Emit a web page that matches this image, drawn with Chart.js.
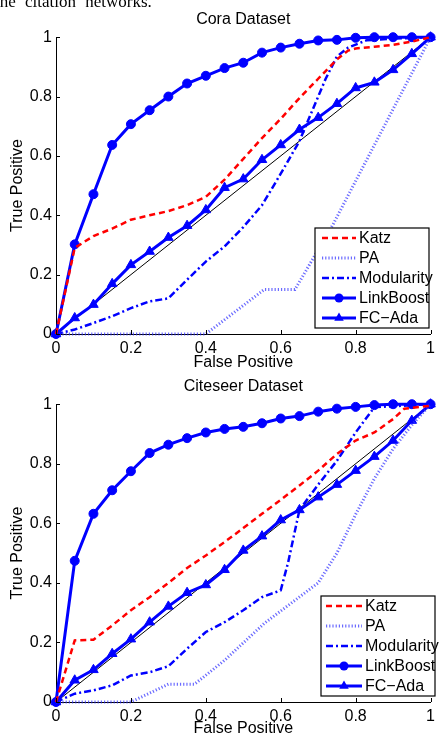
<!DOCTYPE html>
<html>
<head>
<meta charset="utf-8">
<script src="https://cdn.jsdelivr.net/npm/chart.js@4.4.1/dist/chart.umd.min.js"></script>
<style>
  body { margin: 0; background: #fff; width: 440px; height: 738px; overflow: hidden; position: relative; }
  canvas { position: absolute; left: 0; }
  #caption {
    position: absolute; top: -7px; left: -5px; z-index: 2;
    font: 17px "Liberation Serif", serif; line-height: 17px;
    word-spacing: 5px; white-space: nowrap; color: #000;
  }
</style>
</head>
<body>
<div id="caption">the citation networks.</div>
<canvas id="coraChart" width="440" height="372" style="top:0"></canvas>
<canvas id="citeseerChart" width="440" height="366" style="top:372px"></canvas>
<script>
// false positive rate grid used by the marker curves
const fpr = [0, 0.05, 0.1, 0.15, 0.2, 0.25, 0.3, 0.35, 0.4, 0.45, 0.5, 0.55, 0.6, 0.65, 0.7, 0.75, 0.8, 0.85, 0.9, 0.95, 1];
const diagX = [0, 1];
const diagY = [0, 1];
const tickLabels = ['0', '0.2', '0.4', '0.6', '0.8', '1'];

// Cora
const coraLinkBoost = [0, 0.302, 0.471, 0.637, 0.707, 0.754, 0.800, 0.844, 0.870, 0.896, 0.914, 0.948, 0.965, 0.978, 0.989, 0.991, 0.998, 1, 1, 1, 1];
const coraFcAda = [0, 0.054, 0.099, 0.169, 0.233, 0.278, 0.325, 0.365, 0.418, 0.493, 0.522, 0.587, 0.637, 0.689, 0.729, 0.776, 0.829, 0.848, 0.890, 0.944, 1];
const coraKatzX = [0, 0.05, 0.1, 0.15, 0.2, 0.25, 0.3, 0.35, 0.4, 0.45, 0.5, 0.55, 0.6, 0.65, 0.7, 0.75, 0.78, 0.8, 0.85, 0.9, 0.95, 1];
const coraKatz = [0, 0.29, 0.33, 0.355, 0.385, 0.40, 0.414, 0.434, 0.462, 0.52, 0.59, 0.66, 0.725, 0.795, 0.86, 0.925, 0.955, 0.962, 0.968, 0.974, 0.985, 1];
const coraPAX = [0, 0.4, 0.556, 0.638, 0.74, 1];
const coraPA = [0, 0, 0.15, 0.15, 0.37, 1];
const coraModX = [0, 0.05, 0.1, 0.15, 0.2, 0.25, 0.3, 0.35, 0.4, 0.45, 0.5, 0.55, 0.6, 0.65, 0.68, 0.72, 0.75, 0.78, 0.83, 0.9, 1];
const coraMod = [0, 0.015, 0.037, 0.06, 0.087, 0.11, 0.12, 0.183, 0.244, 0.295, 0.36, 0.434, 0.54, 0.65, 0.74, 0.86, 0.935, 0.965, 0.99, 0.995, 1];

// Citeseer
const citeLinkBoost = [0, 0.474, 0.632, 0.711, 0.775, 0.836, 0.864, 0.886, 0.905, 0.917, 0.924, 0.936, 0.952, 0.960, 0.975, 0.985, 0.991, 0.997, 1, 1, 1];
const citeFcAda = [0, 0.073, 0.108, 0.162, 0.211, 0.268, 0.321, 0.367, 0.393, 0.444, 0.509, 0.557, 0.611, 0.645, 0.688, 0.730, 0.777, 0.824, 0.878, 0.945, 1];
const citeKatzX = [0, 0.05, 0.1, 0.15, 0.2, 0.25, 0.3, 0.35, 0.4, 0.45, 0.5, 0.55, 0.6, 0.65, 0.7, 0.75, 0.8, 0.85, 0.9, 0.93, 1];
const citeKatz = [0, 0.207, 0.209, 0.257, 0.308, 0.352, 0.40, 0.45, 0.492, 0.537, 0.584, 0.632, 0.679, 0.727, 0.777, 0.833, 0.878, 0.905, 0.95, 0.985, 0.995];
const citePAX = [0, 0.2, 0.3, 0.37, 0.45, 0.556, 0.7, 0.75, 0.8, 0.85, 0.9, 0.95, 1];
const citePA = [0, 0, 0.06, 0.06, 0.14, 0.264, 0.4, 0.5, 0.63, 0.75, 0.85, 0.93, 1];
const citeModX = [0, 0.05, 0.1, 0.15, 0.2, 0.25, 0.3, 0.35, 0.4, 0.45, 0.5, 0.55, 0.6, 0.62, 0.65, 0.7, 0.75, 0.8, 0.85, 0.9, 1];
const citeMod = [0, 0.028, 0.039, 0.056, 0.089, 0.10, 0.12, 0.179, 0.235, 0.268, 0.308, 0.352, 0.375, 0.47, 0.645, 0.73, 0.81, 0.905, 0.99, 0.993, 1];

Chart.defaults.font.family = '"Liberation Sans", Arial, sans-serif';
Chart.defaults.font.size = 16;
Chart.defaults.color = '#000';

const BLUE = '#0000ff';
const pts = (xs, ys) => xs.map((x, i) => ({ x: x, y: ys[i] }));

// MATLAB style tick marks pointing into the axes
const inwardTicks = {
  id: 'inwardTicks',
  afterDraw(chart) {
    const { ctx, chartArea, scales } = chart;
    ctx.save();
    ctx.strokeStyle = '#000';
    ctx.lineWidth = 1;
    ctx.beginPath();
    scales.x.ticks.forEach(t => {
      const px = Math.round(scales.x.getPixelForValue(t.value)) + 0.5;
      ctx.moveTo(px, chartArea.bottom);
      ctx.lineTo(px, chartArea.bottom - 4);
    });
    scales.y.ticks.forEach(t => {
      const py = Math.round(scales.y.getPixelForValue(t.value)) + 0.5;
      ctx.moveTo(chartArea.left, py);
      ctx.lineTo(chartArea.left + 4, py);
    });
    ctx.stroke();
    ctx.restore();
  }
};

function drawMarker(ctx, style, r, x, y) {
  ctx.beginPath();
  if (style === 'triangle') {
    let rad = 0;
    ctx.moveTo(x + Math.sin(rad) * r, y - Math.cos(rad) * r);
    rad += Math.PI * 2 / 3;
    ctx.lineTo(x + Math.sin(rad) * r, y - Math.cos(rad) * r);
    rad += Math.PI * 2 / 3;
    ctx.lineTo(x + Math.sin(rad) * r, y - Math.cos(rad) * r);
    ctx.closePath();
  } else {
    ctx.arc(x, y, r, 0, Math.PI * 2);
  }
  ctx.fill();
}

// boxed legend inside the plot, like the matlab one
const boxLegend = {
  id: 'boxLegend',
  afterDraw(chart, args, opts) {
    const ctx = chart.ctx;
    const items = chart.data.datasets.filter(d => d.label);
    const rowH = opts.height / items.length;
    ctx.save();
    ctx.fillStyle = '#fff';
    ctx.fillRect(opts.left, opts.top, opts.width, opts.height);
    ctx.strokeStyle = '#000';
    ctx.lineWidth = 1.2;
    ctx.strokeRect(opts.left, opts.top, opts.width, opts.height);
    items.forEach((d, i) => {
      const yy = opts.top + rowH * (i + 0.5);
      ctx.setLineDash(d.borderDash || []);
      ctx.strokeStyle = d.borderColor;
      ctx.lineWidth = d.borderWidth;
      ctx.beginPath();
      ctx.moveTo(opts.x0, yy);
      ctx.lineTo(opts.x1, yy);
      ctx.stroke();
      ctx.setLineDash([]);
      if (d.pointRadius > 0) {
        ctx.fillStyle = d.pointBackgroundColor;
        drawMarker(ctx, d.pointStyle, d.pointRadius, (opts.x0 + opts.x1) / 2, yy);
      }
      ctx.fillStyle = '#000';
      ctx.font = '16px "Liberation Sans", Arial, sans-serif';
      ctx.textBaseline = 'middle';
      ctx.textAlign = 'left';
      ctx.fillText(d.label, opts.textX, yy + 1);
    });
    ctx.restore();
  }
};

function makeDatasets(katzX, katz, paX, pa, modX, mod, linkBoost, fcAda) {
  return [
    { label: 'Katz', data: pts(katzX, katz), borderColor: '#ff0000', borderWidth: 2.5, borderDash: [6, 4], pointRadius: 0 },
    { label: 'PA', data: pts(paX, pa), borderColor: 'rgba(50, 50, 255, 0.72)', borderWidth: 3, borderDash: [1.2, 2], pointRadius: 0 },
    { label: 'Modularity', data: pts(modX, mod), borderColor: BLUE, borderWidth: 2.5, borderDash: [7, 3, 2, 3], pointRadius: 0 },
    { label: 'LinkBoost', data: pts(fpr, linkBoost), borderColor: BLUE, borderWidth: 3, pointStyle: 'circle', pointRadius: 4.5,
      pointBackgroundColor: BLUE, pointBorderColor: BLUE, pointBorderWidth: 1 },
    { label: 'FC\u2212Ada', data: pts(fpr, fcAda), borderColor: BLUE, borderWidth: 3, pointStyle: 'triangle', pointRadius: 5.5,
      pointBackgroundColor: BLUE, pointBorderColor: BLUE, pointBorderWidth: 1 },
    { data: pts(diagX, diagY), borderColor: '#000', borderWidth: 1, pointRadius: 0 }
  ].map(d => Object.assign({ showLine: true, clip: false, tension: 0, pointHoverRadius: 0 }, d));
}

function makeChart(id, title, datasets, titlePad, xHeight, legendBox) {
  return new Chart(document.getElementById(id), {
    type: 'scatter',
    data: { datasets: datasets },
    plugins: [inwardTicks, boxLegend],
    options: {
      responsive: false,
      animation: false,
      devicePixelRatio: 1,
      layout: { padding: { left: 0, right: 5, top: 0, bottom: 0 } },
      plugins: {
        legend: { display: false },
        tooltip: { enabled: false },
        title: { display: true, text: title, fullSize: false, padding: titlePad,
                 font: { size: 16, weight: 'normal' }, color: '#000' },
        boxLegend: legendBox
      },
      scales: {
        x: {
          type: 'linear', min: 0, max: 1,
          grid: { display: false, drawTicks: false },
          border: { display: true, color: '#000', width: 1 },
          ticks: { stepSize: 0.2, padding: 5, maxRotation: 0, autoSkip: false,
                   callback: (v, i) => tickLabels[i] },
          title: { display: true, text: 'False Positive', padding: { top: 0, bottom: 0 } },
          afterFit: s => { s.height = xHeight; }
        },
        y: {
          type: 'linear', min: 0, max: 1,
          grid: { display: false, drawTicks: false },
          border: { display: true, color: '#000', width: 1 },
          ticks: { stepSize: 0.2, padding: 4, autoSkip: false,
                   callback: (v, i) => tickLabels[i] },
          title: { display: true, text: 'True Positive', padding: { top: 8, bottom: 0 } },
          afterFit: s => { s.width = 56; }
        }
      }
    }
  });
}

makeChart('coraChart', 'Cora Dataset',
  makeDatasets(coraKatzX, coraKatz, coraPAX, coraPA, coraModX, coraMod, coraLinkBoost, coraFcAda),
  { top: 10, bottom: 8 }, 38,
  { left: 315, top: 228, width: 114, height: 100, x0: 322, x1: 356, textX: 359 });

makeChart('citeseerChart', 'Citeseer Dataset',
  makeDatasets(citeKatzX, citeKatz, citePAX, citePA, citeModX, citeMod, citeLinkBoost, citeFcAda),
  { top: 5, bottom: 8 }, 36,
  { left: 321, top: 224, width: 114, height: 100, x0: 326, x1: 362, textX: 365 });
</script>
</body>
</html>
